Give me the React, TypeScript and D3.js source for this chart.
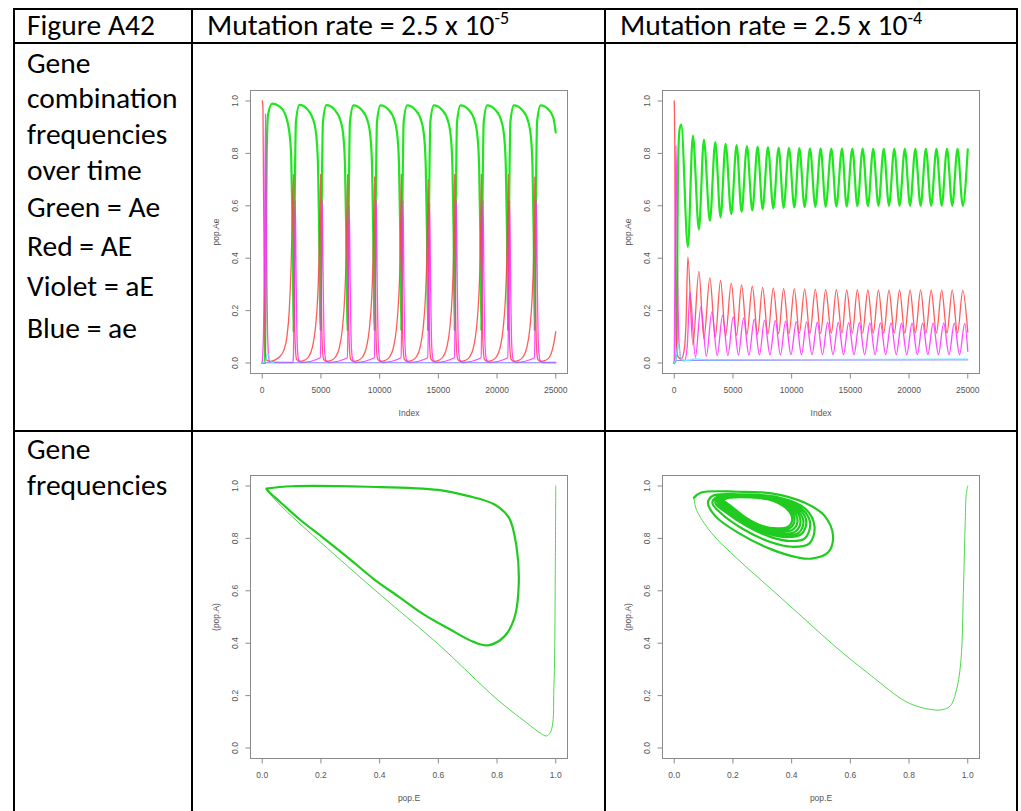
import React from 'react';
import * as d3 from 'd3';

type Pt = [number, number];

// ---------- text ----------
const cornerLabel = 'Figure A42';
const headerBase = 'Mutation rate = 2.5 x 10';
const headerExps = ['-5', '-4'];
const rowLabels1 = ['Gene', 'combination', 'frequencies', 'over time', 'Green = Ae', 'Red = AE', 'Violet = aE', 'Blue = ae'];
const rowLabels2 = ['Gene', 'frequencies'];

// ---------- ticks ----------
const indexTicks = [0, 5000, 10000, 15000, 20000, 25000];
const freqTicks = [0, 0.2, 0.4, 0.6, 0.8, 1.0];

// ---------- mutation rate 2.5e-5 : time series ----------
const lowAe: Pt[] = [
  [0, 0], [230, 0.0], [300, 0.35], [380, 0.8], [500, 0.95], [850, 0.99], [1500, 0.978], [1950, 0.95], [2200, 0.91], [2360, 0.86], [2470, 0.78], [2560, 0.58], [2620, 0.35], [2670, 0.12],
  [2740, 0.5], [2870, 0.92], [3170, 0.985], [3870, 0.967], [4370, 0.925], [4620, 0.86], [4750, 0.75], [4850, 0.5], [4972, 0.125],
  [5042, 0.5], [5172, 0.92], [5472, 0.984], [6172, 0.966], [6672, 0.924], [6922, 0.86], [7052, 0.75], [7152, 0.5], [7273, 0.125],
  [7343, 0.5], [7473, 0.92], [7773, 0.983], [8473, 0.966], [8973, 0.924], [9223, 0.86], [9353, 0.75], [9453, 0.5], [9574, 0.125],
  [9644, 0.5], [9774, 0.92], [10074, 0.983], [10774, 0.966], [11274, 0.924], [11524, 0.86], [11654, 0.75], [11754, 0.5], [11847, 0.125],
  [11917, 0.5], [12047, 0.92], [12347, 0.983], [13047, 0.966], [13547, 0.924], [13797, 0.86], [13927, 0.75], [14027, 0.5], [14119, 0.125],
  [14189, 0.5], [14319, 0.92], [14619, 0.983], [15319, 0.966], [15819, 0.924], [16069, 0.86], [16199, 0.75], [16299, 0.5], [16392, 0.125],
  [16462, 0.5], [16592, 0.92], [16892, 0.983], [17592, 0.966], [18092, 0.924], [18342, 0.86], [18472, 0.75], [18572, 0.5], [18665, 0.125],
  [18735, 0.5], [18865, 0.92], [19165, 0.983], [19865, 0.966], [20365, 0.924], [20615, 0.86], [20745, 0.75], [20845, 0.5], [20938, 0.125],
  [21008, 0.5], [21138, 0.92], [21438, 0.983], [22138, 0.966], [22638, 0.924], [22888, 0.86], [23018, 0.75], [23118, 0.5], [23210, 0.125],
  [23280, 0.5], [23410, 0.92], [23710, 0.983], [24410, 0.966], [24800, 0.935], [25000, 0.88],
];
const lowAE: Pt[] = [
  [0, 1.0], [60, 0.98], [110, 0.66], [180, 0.3], [260, 0.05], [350, 0.012], [700, 0.006], [1100, 0.012], [1500, 0.025], [1850, 0.05], [2100, 0.1], [2300, 0.2], [2450, 0.36], [2560, 0.55], [2670, 0.72],
  [2720, 0.35], [2800, 0.08], [2920, 0.015], [3170, 0.006], [3570, 0.01], [3920, 0.022], [4270, 0.06], [4520, 0.13], [4720, 0.25], [4840, 0.4], [4910, 0.56], [4972, 0.72],
  [5022, 0.35], [5102, 0.08], [5222, 0.015], [5472, 0.006], [5872, 0.01], [6222, 0.022], [6572, 0.06], [6822, 0.13], [7022, 0.25], [7142, 0.4], [7212, 0.56], [7273, 0.72],
  [7323, 0.35], [7403, 0.08], [7523, 0.015], [7773, 0.006], [8173, 0.01], [8523, 0.022], [8873, 0.06], [9123, 0.13], [9323, 0.25], [9443, 0.4], [9513, 0.56], [9574, 0.71],
  [9624, 0.35], [9704, 0.08], [9824, 0.015], [10074, 0.006], [10474, 0.01], [10824, 0.022], [11174, 0.06], [11424, 0.13], [11624, 0.25], [11744, 0.4], [11800, 0.56], [11847, 0.72],
  [11897, 0.35], [11977, 0.08], [12097, 0.015], [12347, 0.006], [12747, 0.01], [13097, 0.022], [13447, 0.06], [13697, 0.13], [13897, 0.25], [14017, 0.4], [14080, 0.56], [14119, 0.7],
  [14169, 0.35], [14249, 0.08], [14369, 0.015], [14619, 0.006], [15019, 0.01], [15369, 0.022], [15719, 0.06], [15969, 0.13], [16169, 0.25], [16289, 0.4], [16350, 0.56], [16392, 0.72],
  [16442, 0.35], [16522, 0.08], [16642, 0.015], [16892, 0.006], [17292, 0.01], [17642, 0.022], [17992, 0.06], [18242, 0.13], [18442, 0.25], [18562, 0.4], [18625, 0.56], [18665, 0.72],
  [18715, 0.35], [18795, 0.08], [18915, 0.015], [19165, 0.006], [19565, 0.01], [19915, 0.022], [20265, 0.06], [20515, 0.13], [20715, 0.25], [20835, 0.4], [20898, 0.56], [20938, 0.72],
  [20988, 0.35], [21068, 0.08], [21188, 0.015], [21438, 0.006], [21838, 0.01], [22188, 0.022], [22538, 0.06], [22788, 0.13], [22988, 0.25], [23108, 0.4], [23170, 0.56], [23210, 0.71],
  [23260, 0.35], [23340, 0.08], [23460, 0.015], [23710, 0.006], [24110, 0.01], [24460, 0.022], [24810, 0.07], [25000, 0.12],
];
const lowaE: Pt[] = [
  [0, 0], [100, 0.1], [180, 0.33], [280, 0.95], [360, 0.45], [450, 0.12], [560, 0.02], [700, 0.003], [2600, 0.002],
  [2650, 0.02], [2730, 0.3], [2810, 0.62], [2890, 0.3], [2990, 0.06], [3120, 0.01], [3370, 0.002],
  [4952, 0.02], [5032, 0.3], [5112, 0.62], [5192, 0.3], [5292, 0.06], [5422, 0.01], [5672, 0.002],
  [7253, 0.02], [7333, 0.3], [7413, 0.6], [7493, 0.3], [7593, 0.06], [7723, 0.01], [7973, 0.002],
  [9554, 0.02], [9634, 0.3], [9714, 0.62], [9794, 0.3], [9894, 0.06], [10024, 0.01], [10274, 0.002],
  [11827, 0.02], [11907, 0.3], [11987, 0.62], [12067, 0.3], [12167, 0.06], [12297, 0.01], [12547, 0.002],
  [14099, 0.02], [14179, 0.3], [14259, 0.61], [14339, 0.3], [14439, 0.06], [14569, 0.01], [14819, 0.002],
  [16372, 0.02], [16452, 0.3], [16532, 0.62], [16612, 0.3], [16712, 0.06], [16842, 0.01], [17092, 0.002],
  [18645, 0.02], [18725, 0.3], [18805, 0.62], [18885, 0.3], [18985, 0.06], [19115, 0.01], [19365, 0.002],
  [20918, 0.02], [20998, 0.3], [21078, 0.62], [21158, 0.3], [21258, 0.06], [21388, 0.01], [21638, 0.002],
  [23190, 0.02], [23270, 0.3], [23350, 0.62], [23430, 0.3], [23530, 0.06], [23660, 0.01], [23910, 0.002],
  [25000, 0.002],
];
const lowBlue: Pt[] = [[0, 0.001], [25000, 0.001]];
const lowCyan: Pt[] = [[0, 0], [250, 0.005], [400, 0.03], [500, 0.035], [620, 0.015], [800, 0.003], [1000, 0.001]];

// ---------- mutation rate 2.5e-4 : time series ----------
const highAe: Pt[] = [
  [0, 0], [200, 0.04], [260, 0.4], [330, 0.76], [450, 0.89], [597, 0.91],
  [1162, 0.443], [1588, 0.868], [2100, 0.51], [2525, 0.853], [3036, 0.542], [3494, 0.843], [3946, 0.556], [4372, 0.836], [4858, 0.568], [5310, 0.832],
  [5736, 0.577], [6190, 0.828], [6648, 0.582], [7100, 0.826], [7526, 0.587], [7980, 0.824], [8438, 0.59], [8890, 0.822], [9316, 0.592], [9770, 0.821],
  [10227, 0.594], [10653, 0.82], [11106, 0.595], [11560, 0.819], [12017, 0.596], [12470, 0.819], [12895, 0.597], [13380, 0.818], [13807, 0.598], [14290, 0.818],
  [14685, 0.598], [15170, 0.818], [15597, 0.599], [16046, 0.818], [16495, 0.599], [16944, 0.817], [17393, 0.6], [17842, 0.817], [18291, 0.6], [18740, 0.817],
  [19189, 0.6], [19638, 0.817], [20087, 0.6], [20536, 0.817], [20985, 0.6], [21434, 0.817], [21883, 0.6], [22332, 0.817], [22781, 0.6], [23230, 0.817],
  [23679, 0.6], [24128, 0.817], [24577, 0.6], [25000, 0.815],
];
const highAE: Pt[] = [
  [0, 1.0], [40, 0.87], [90, 0.45], [150, 0.12], [250, 0.03], [600, 0.015], [850, 0.05], [1000, 0.15], [1162, 0.405],
  [1588, 0.07], [2100, 0.35], [2525, 0.093], [3036, 0.325], [3494, 0.1], [3946, 0.315], [4372, 0.104], [4858, 0.305], [5310, 0.107],
  [5736, 0.298], [6190, 0.109], [6648, 0.293], [7100, 0.11], [7526, 0.289], [7980, 0.111], [8438, 0.286], [8890, 0.112], [9316, 0.284], [9770, 0.112],
  [10227, 0.283], [10653, 0.113], [11106, 0.282], [11560, 0.113], [12017, 0.281], [12470, 0.113], [12895, 0.28], [13380, 0.114], [13807, 0.28], [14290, 0.114],
  [14685, 0.279], [15170, 0.114], [15597, 0.279], [16046, 0.114], [16495, 0.279], [16944, 0.114], [17393, 0.278], [17842, 0.114], [18291, 0.278], [18740, 0.114],
  [19189, 0.278], [19638, 0.114], [20087, 0.278], [20536, 0.114], [20985, 0.278], [21434, 0.114], [21883, 0.278], [22332, 0.114], [22781, 0.278], [23230, 0.114],
  [23679, 0.278], [24128, 0.114], [24577, 0.277], [25000, 0.118],
];
const highaE: Pt[] = [
  [0, 0], [80, 0.5], [150, 0.83], [230, 0.55], [300, 0.3], [400, 0.08], [600, 0.015], [880, 0.008], [1100, 0.06], [1337, 0.27],
  [1800, 0.022], [2270, 0.214], [2740, 0.026], [3205, 0.195], [3660, 0.028], [4115, 0.182], [4570, 0.029], [5025, 0.176], [5465, 0.03], [5905, 0.171],
  [6360, 0.03], [6815, 0.167], [7255, 0.031], [7695, 0.164], [8150, 0.031], [8605, 0.162], [9045, 0.031], [9485, 0.16], [9940, 0.032], [10395, 0.158],
  [10835, 0.032], [11275, 0.157], [11730, 0.032], [12185, 0.156], [12625, 0.032], [13065, 0.155], [13520, 0.032], [13975, 0.155], [14415, 0.032], [14855, 0.154],
  [15310, 0.032], [15765, 0.154], [16215, 0.032], [16665, 0.153], [17110, 0.032], [17560, 0.153], [18010, 0.032], [18460, 0.153], [18910, 0.032], [19360, 0.152],
  [19805, 0.032], [20255, 0.152], [20705, 0.032], [21155, 0.152], [21600, 0.032], [22050, 0.152], [22500, 0.032], [22950, 0.152], [23400, 0.032], [23850, 0.152],
  [24300, 0.032], [24745, 0.151], [25000, 0.045],
];
const highBlue: Pt[] = [[0, 0], [300, 0.01], [25000, 0.012]];
const highCyan: Pt[] = [[0, 0], [150, 0.02], [330, 0.075], [480, 0.035], [700, 0.012], [1200, 0.01], [1800, 0.016], [2700, 0.013], [25000, 0.015]];

// ---------- gene frequencies (pop.E, pop.A) ----------
const lowTransient: Pt[] = [
  [1.0, 1.0], [0.998, 0.6], [0.996, 0.338], [0.993, 0.2], [0.991, 0.109], [0.982, 0.06], [0.968, 0.046], [0.95, 0.055], [0.9, 0.097],
  [0.8, 0.186], [0.6, 0.396], [0.4, 0.587], [0.2, 0.784], [0.1, 0.885], [0.05, 0.94], [0.014, 0.985],
];
const lowCycle: Pt[] = [
  [0.014, 0.99], [0.1, 0.999], [0.36, 0.997], [0.6, 0.985], [0.7, 0.962], [0.79, 0.93], [0.84, 0.88], [0.866, 0.77], [0.874, 0.63], [0.86, 0.5],
  [0.826, 0.427], [0.77, 0.392], [0.72, 0.405], [0.639, 0.453], [0.55, 0.51], [0.468, 0.575], [0.38, 0.645], [0.298, 0.721], [0.21, 0.8],
  [0.127, 0.873], [0.06, 0.94], [0.025, 0.975], [0.014, 0.99],
];
const highTransient: Pt[] = [
  [1.0, 1.0], [0.995, 0.97], [0.991, 0.847], [0.985, 0.593], [0.977, 0.338], [0.962, 0.224], [0.94, 0.16], [0.906, 0.145], [0.87, 0.148], [0.843, 0.154],
  [0.786, 0.179], [0.672, 0.275], [0.559, 0.377], [0.445, 0.491], [0.331, 0.606], [0.217, 0.72], [0.126, 0.822], [0.075, 0.911], [0.067, 0.955],
];
const highSpiral: Pt[] = [
  [0.067, 0.955], [0.092, 0.975], [0.217, 0.978], [0.331, 0.972], [0.445, 0.936], [0.513, 0.885], [0.541, 0.809], [0.524, 0.746], [0.468, 0.723], [0.422, 0.727],
  [0.331, 0.758], [0.217, 0.822], [0.14, 0.885], [0.115, 0.935], [0.13, 0.962], [0.217, 0.968], [0.354, 0.957], [0.445, 0.915], [0.478, 0.845], [0.46, 0.78],
  [0.4, 0.768], [0.33, 0.785], [0.24, 0.832], [0.16, 0.895], [0.13, 0.935], [0.145, 0.958], [0.23, 0.965], [0.35, 0.955], [0.43, 0.918], [0.463, 0.86],
  [0.445, 0.8], [0.395, 0.79], [0.33, 0.805], [0.25, 0.845], [0.175, 0.9], [0.14, 0.935], [0.15, 0.955], [0.24, 0.963], [0.345, 0.953], [0.42, 0.918],
  [0.45, 0.865], [0.432, 0.815], [0.38, 0.805], [0.32, 0.818], [0.25, 0.852], [0.18, 0.903], [0.148, 0.938], [0.155, 0.953], [0.245, 0.962], [0.34, 0.951],
  [0.41, 0.918], [0.44, 0.866], [0.425, 0.822], [0.375, 0.81], [0.315, 0.823], [0.25, 0.856], [0.185, 0.905], [0.152, 0.94], [0.16, 0.953], [0.25, 0.961],
  [0.34, 0.949], [0.405, 0.916], [0.43, 0.868], [0.415, 0.828], [0.368, 0.817], [0.31, 0.83], [0.245, 0.862], [0.19, 0.908], [0.157, 0.94], [0.165, 0.953],
  [0.255, 0.96], [0.34, 0.947], [0.398, 0.914], [0.42, 0.87], [0.405, 0.834], [0.36, 0.825], [0.305, 0.836], [0.245, 0.867], [0.195, 0.91], [0.162, 0.94],
  [0.17, 0.952], [0.26, 0.958], [0.34, 0.945], [0.392, 0.912], [0.41, 0.872], [0.395, 0.84], [0.355, 0.832], [0.3, 0.843], [0.245, 0.872], [0.2, 0.912],
  [0.168, 0.94], [0.175, 0.951], [0.262, 0.956], [0.338, 0.943], [0.386, 0.91], [0.402, 0.873], [0.388, 0.845], [0.35, 0.838], [0.298, 0.848], [0.248, 0.876],
  [0.205, 0.913], [0.172, 0.94],
];

// ---------- layout ----------
const FONT = 'Carlito, Lato, "Open Sans", sans-serif';
const AXFONT = '"Liberation Sans", Arial, sans-serif';

type Series = { data: Pt[]; color: string; width: number; curve: any; opacity?: number };

function RPlot(props: {
  left: number; top: number; width: number; height: number;
  xDomain: [number, number]; xTicks: number[]; xFmt: (v: number) => string;
  xLabel: string; yLabel: string; series: Series[];
}) {
  const { left, top, width, height, xDomain, xTicks, xFmt, xLabel, yLabel, series } = props;
  const xpad = (xDomain[1] - xDomain[0]) * 0.04;
  const x = d3.scaleLinear().domain([xDomain[0] - xpad, xDomain[1] + xpad]).range([left, left + width]);
  const y = d3.scaleLinear().domain([-0.04, 1.04]).range([top + height, top]);
  const bottom = top + height;
  const axisCol = '#8a8a8a';
  const textCol = '#555';
  return (
    <g>
      <rect x={left} y={top} width={width} height={height} fill="white" stroke={axisCol} strokeWidth={1} />
      <g>
        {series.map((s, i) => {
          const line = d3.line<Pt>().x(d => x(d[0])).y(d => y(d[1])).curve(s.curve);
          return <path key={i} d={line(s.data) || ''} fill="none" stroke={s.color} strokeWidth={s.width} strokeOpacity={s.opacity ?? 1} strokeLinejoin="round" strokeLinecap="round" />;
        })}
      </g>
      {xTicks.map(t => (
        <g key={'x' + t}>
          <line x1={x(t)} x2={x(t)} y1={bottom} y2={bottom + 5} stroke={axisCol} />
          <text x={x(t)} y={bottom + 16.5} fontSize={8.5} fontFamily={AXFONT} fill={textCol} textAnchor="middle" dominantBaseline="central">{xFmt(t)}</text>
        </g>
      ))}
      {freqTicks.map(t => (
        <g key={'y' + t}>
          <line x1={left} x2={left - 5} y1={y(t)} y2={y(t)} stroke={axisCol} />
          <text transform={`translate(${left - 15.5},${y(t)}) rotate(-90)`} fontSize={8.5} fontFamily={AXFONT} fill={textCol} textAnchor="middle" dominantBaseline="central">{t.toFixed(1)}</text>
        </g>
      ))}
      <text x={left + width / 2} y={bottom + 39.5} fontSize={8.5} fontFamily={AXFONT} fill={textCol} textAnchor="middle" dominantBaseline="central">{xLabel}</text>
      <text transform={`translate(${left - 35},${y(0.5)}) rotate(-90)`} fontSize={8.5} fontFamily={AXFONT} fill={textCol} textAnchor="middle" dominantBaseline="central">{yLabel}</text>
    </g>
  );
}

export default function App() {
  const mono = d3.curveMonotoneX;
  const cr = d3.curveCatmullRom.alpha(0.5);
  const GREEN = '#1fe61f';
  const RED = '#ff4040';
  const VIOLET = '#ff2aff';
  const BLUE = '#7f7fff';
  const CYAN = '#66ecff';
  const timeSeries = (ae: Pt[], AE: Pt[], aE: Pt[], blue: Pt[], cyan: Pt[]): Series[] => [
    { data: ae, color: GREEN, width: 2.2, curve: mono },
    { data: AE, color: RED, width: 1.3, curve: mono, opacity: 0.85 },
    { data: aE, color: VIOLET, width: 1.3, curve: mono, opacity: 0.85 },
    { data: blue, color: BLUE, width: 1, curve: mono },
    { data: cyan, color: CYAN, width: 1.1, curve: mono },
  ];
  const idxFmt = (v: number) => String(v);
  const frFmt = (v: number) => v.toFixed(1);

  const lineW = 2;
  const L = 14, R = 1017, T = 9, B = 811, C1 = 192, C2 = 605, H = 43, M = 431;
  const FS = 29.5;

  return (
    <svg width={1021} height={811} style={{ position: 'absolute', left: 0, top: 0, background: 'white' }}>
      <rect x={0} y={0} width={1021} height={811} fill="white" />

      {/* header texts */}
      <text x={27} y={35} fontFamily={FONT} fontSize={FS} fill="#000">{cornerLabel}</text>
      {[207, 620].map((xx, i) => (
        <text key={i} x={xx} y={35} fontFamily={FONT} fontSize={FS} fill="#000">
          {headerBase}
          <tspan fontSize={18} dy={-11}>{headerExps[i]}</tspan>
        </text>
      ))}

      {/* row labels */}
      {rowLabels1.map((s, i) => (
        <text key={'r1' + i} x={27} y={[73, 108, 144, 180, 217, 256, 296, 338][i]} fontFamily={FONT} fontSize={FS} fill="#000">{s}</text>
      ))}
      {rowLabels2.map((s, i) => (
        <text key={'r2' + i} x={27} y={[459, 495][i]} fontFamily={FONT} fontSize={FS} fill="#000">{s}</text>
      ))}

      {/* plots */}
      <RPlot left={250.5} top={90.5} width={317} height={283} xDomain={[0, 25000]} xTicks={indexTicks} xFmt={idxFmt}
        xLabel="Index" yLabel="pop.Ae" series={timeSeries(lowAe, lowAE, lowaE, lowBlue, lowCyan)} />
      <RPlot left={662.5} top={90.5} width={317} height={283} xDomain={[0, 25000]} xTicks={indexTicks} xFmt={idxFmt}
        xLabel="Index" yLabel="pop.Ae" series={timeSeries(highAe, highAE, highaE, highBlue, highCyan)} />
      <RPlot left={250.5} top={475.5} width={317} height={283} xDomain={[0, 1]} xTicks={freqTicks} xFmt={frFmt}
        xLabel="pop.E" yLabel="(pop.A)" series={[
          { data: lowTransient, color: '#4fd84f', width: 1, curve: cr },
          { data: lowCycle, color: '#1ecb1e', width: 2.2, curve: cr },
        ]} />
      <RPlot left={662.5} top={475.5} width={317} height={283} xDomain={[0, 1]} xTicks={freqTicks} xFmt={frFmt}
        xLabel="pop.E" yLabel="(pop.A)" series={[
          { data: highTransient, color: '#4fd84f', width: 1, curve: cr },
          { data: highSpiral, color: '#1ecb1e', width: 2.2, curve: cr },
        ]} />

      {/* table grid */}
      <g stroke="#000" strokeWidth={lineW}>
        <line x1={L - 1} x2={R + 1} y1={T} y2={T} />
        <line x1={L} x2={L} y1={T} y2={B} />
        <line x1={R} x2={R} y1={T} y2={B} />
        <line x1={C1} x2={C1} y1={T} y2={B} />
        <line x1={C2} x2={C2} y1={T} y2={B} />
        <line x1={L} x2={R} y1={H} y2={H} />
        <line x1={L} x2={R} y1={M} y2={M} />
      </g>
    </svg>
  );
}
